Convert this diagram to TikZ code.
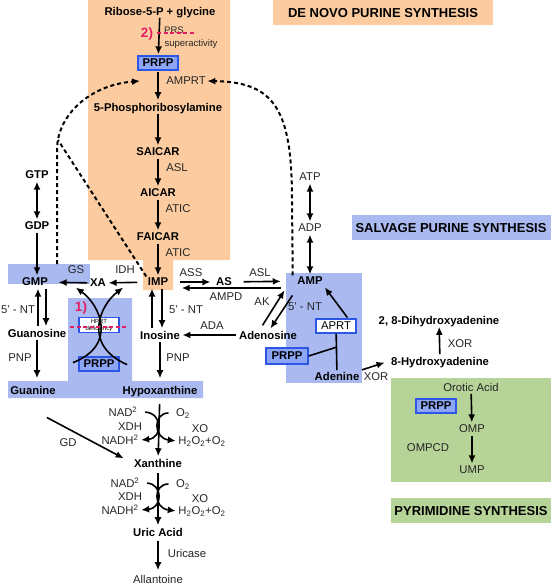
\documentclass[tikz,border=0pt]{standalone}
\usepackage{fontspec}
\setmainfont{Liberation Sans}
\usepackage{tikz}
\usetikzlibrary{arrows.meta}
\definecolor{denovo}{RGB}{252,204,160}
\definecolor{salvage}{RGB}{170,185,240}
\definecolor{pyrim}{RGB}{182,212,152}
\definecolor{prppfill}{RGB}{140,165,245}
\definecolor{boxedge}{RGB}{45,85,230}
\definecolor{defect}{RGB}{228,30,100}
\newcommand{\mainsize}{\fontsize{11.3}{13}\selectfont}
\newcommand{\headhere}{Latex[length=8pt, width=7pt]}
\tikzstyle{metab}=[font=\mainsize\bfseries, inner sep=1.5pt]
\tikzstyle{enzyme}=[font=\mainsize, text=black!85, inner sep=1.5pt]
\tikzstyle{smalltext}=[font=\fontsize{9.5}{10}\selectfont, text=black!85, inner sep=0]
\tikzstyle{defectnum}=[font=\fontsize{13.5}{15}\selectfont\bfseries, text=defect, inner sep=0]
\tikzstyle{prppbox}=[draw=boxedge, line width=1.3pt, fill=prppfill, font=\mainsize\bfseries, inner sep=0, minimum width=40pt, minimum height=14pt]
\tikzstyle{enzbox}=[prppbox, fill=white, font=\mainsize]
\tikzstyle{hprtbox}=[prppbox, fill=white, font=\fontsize{6}{6.5}\selectfont, align=center, minimum height=15pt]
\tikzstyle{title}=[font=\fontsize{13}{15}\selectfont\bfseries, inner sep=0]
\tikzstyle{flow}=[line width=1.6pt, -{\headhere}, shorten >=1pt, shorten <=1pt]
\tikzstyle{dflow}=[flow, {\headhere}-{\headhere}]
\tikzstyle{stem}=[line width=1.6pt]
\tikzstyle{feedback}=[line width=2pt, dash pattern=on 4pt off 3pt, -{\headhere}]
\tikzstyle{defectline}=[draw=defect, line width=1.6pt, dash pattern=on 4pt off 2.5pt]
\tikzstyle{pathway}=[x=1pt, y=-1pt,
                     % pixel grid of the original figure
                     every node/.append style={text depth=0pt}]

\begin{document}
\begin{tikzpicture}[pathway]
        \useasboundingbox (0, 0) rectangle (551, 584);
        \fill[denovo] (88, 0) -- (230, 0) -- (230, 260) -- (173, 260) -- (173, 290) -- (143, 290) -- (143, 260) -- (88, 260) -- cycle;
        \fill[denovo] (273, 0) rectangle (493, 25);
        \fill[salvage] (352, 215) rectangle (551, 240);
        \fill[salvage] (8, 264) rectangle (90, 284);
        \fill[salvage] (68, 298) -- (132, 298) -- (132, 381) -- (203, 381) -- (203, 398) -- (8, 398) -- (8, 381) -- (68, 381) -- cycle;
        \fill[salvage] (286, 273) rectangle (362, 383);
        \fill[pyrim] (391, 378) rectangle (551, 482);
        \fill[pyrim] (391, 498) rectangle (551, 523);
        \node[title]     (denovotitle)  at (383, 13)  {DE NOVO PURINE SYNTHESIS};
        \node[title]     (salvagetitle) at (451, 228) {SALVAGE PURINE SYNTHESIS};
        \node[title]     (pyrimtitle)   at (471, 511) {PYRIMIDINE SYNTHESIS};
        \node[metab]     (ribose)       at (160, 11)  {Ribose-5-P + glycine};
        \node[prppbox]   (prpp1)        at (158, 63)  {PRPP};
        \node[metab]     (pra)          at (158, 107) {5-Phosphoribosylamine};
        \node[metab]     (saicar)       at (158, 152) {SAICAR};
        \node[metab]     (aicar)        at (158, 193) {AICAR};
        \node[metab]     (faicar)       at (158, 237) {FAICAR};
        \node[metab]     (imp)          at (158, 282) {IMP};
        \node[enzyme]    (amprt)        at (186, 81)  {AMPRT};
        \node[enzyme]    (asl1)         at (177, 168) {ASL};
        \node[enzyme]    (atic1)        at (178, 209) {ATIC};
        \node[enzyme]    (atic2)        at (178, 253) {ATIC};
        \node[defectnum] (two)          at (147, 33)  {2)};
        \node[smalltext] (prs)          at (174, 30)  {PRS};
        \node[smalltext] (superact)     at (191, 43)  {superactivity};
        \node[metab]     (xa)           at (98, 283)  {XA};
        \node[metab]     (gmp)          at (35, 282)  {GMP};
        \node[metab]     (gdp)          at (37, 226)  {GDP};
        \node[metab]     (gtp)          at (37, 175)  {GTP};
        \node[enzyme]    (idh)          at (125, 270) {IDH};
        \node[enzyme]    (gs)           at (76, 270)  {GS};
        \node[metab]     (as)           at (224, 282) {AS};
        \node[metab]     (amp)          at (310, 281) {AMP};
        \node[enzyme]    (adp)          at (310, 228) {ADP};
        \node[enzyme]    (atp)          at (310, 177) {ATP};
        \node[enzyme]    (ass)          at (191, 273) {ASS};
        \node[enzyme]    (asl2)         at (260, 273) {ASL};
        \node[enzyme]    (ampd)         at (226, 297) {AMPD};
        \node[enzyme]    (ak)           at (262, 302) {AK};
        \node[enzyme]    (nt1)          at (305, 307) {5' - NT};
        \node[enzyme]    (nt2)          at (186, 310) {5' - NT};
        \node[enzyme]    (nt3)          at (18, 310)  {5' - NT};
        \node[metab]     (inosine)      at (160, 335) {Inosine};
        \node[metab]     (adenosine)    at (268, 335) {Adenosine};
        \node[metab]     (guanosine)    at (37, 333)  {Guanosine};
        \node[enzyme]    (ada)          at (212, 326) {ADA};
        \node[enzyme]    (pnp1)         at (178, 358) {PNP};
        \node[enzyme]    (pnp2)         at (20, 358)  {PNP};
        \node[metab]     (guanine)      at (33, 390)  {Guanine};
        \node[metab]     (hypox)        at (160, 390) {Hypoxanthine};
        \node[hprtbox]   (hprt)         at (99, 325)  {HPRT\\deficiency};
        \node[prppbox]   (prpp2)        at (99, 364)  {PRPP};
        \node[defectnum] (one)          at (81, 307)  {1)};
        \node[enzbox]    (aprt)         at (336, 326) {APRT};
        \node[prppbox, minimum width=42pt, minimum height=16pt] (prpp3) at (287, 356) {PRPP};
        \node[metab]     (adenine)      at (337, 376) {Adenine};
        \node[enzyme]    (xor1)         at (376, 377) {XOR};
        \node[metab]     (hydroxy)      at (440, 361) {8-Hydroxyadenine};
        \node[enzyme]    (xor2)         at (460, 344) {XOR};
        \node[metab]     (dihydroxy)    at (439, 320) {2, 8-Dihydroxyadenine};
        \node[enzyme]    (orotic)       at (471, 387) {Orotic Acid};
        \node[prppbox]   (prpp4)        at (436, 406) {PRPP};
        \node[enzyme]    (omp)          at (472, 429) {OMP};
        \node[enzyme]    (ompcd)        at (428, 448) {OMPCD};
        \node[enzyme]    (ump)          at (472, 470) {UMP};
        \node[metab]     (xanthine)     at (158, 463) {Xanthine};
        \node[metab]     (uric)         at (158, 532) {Uric Acid};
        \node[enzyme]    (allantoine)   at (158, 579) {Allantoine};
        \node[enzyme]    (uricase)      at (187, 553) {Uricase};
        \node[enzyme]    (gd)           at (68, 443)  {GD};
        \node[enzyme]    (nad1)         at (123, 412) {NAD\textsuperscript{2}};
        \node[enzyme]    (xdh1)         at (130, 427) {XDH};
        \node[enzyme]    (nadh1)        at (120, 440) {NADH\textsuperscript{2}};
        \node[enzyme]    (otwo1)        at (183, 413) {O\textsubscript{2}};
        \node[enzyme]    (xo1)          at (200, 429) {XO};
        \node[enzyme]    (hoo1)         at (202, 441) {H\textsubscript{2}O\textsubscript{2}+O\textsubscript{2}};
        \node[enzyme]    (nad2)         at (125, 483) {NAD\textsuperscript{2}};
        \node[enzyme]    (xdh2)         at (130, 497) {XDH};
        \node[enzyme]    (nadh2)        at (120, 510) {NADH\textsuperscript{2}};
        \node[enzyme]    (otwo2)        at (183, 484) {O\textsubscript{2}};
        \node[enzyme]    (xo2)          at (200, 499) {XO};
        \node[enzyme]    (hoo2)         at (202, 511) {H\textsubscript{2}O\textsubscript{2}+O\textsubscript{2}};
        \coordinate (gmpfb)   at (57, 264);
        \coordinate (merge)   at (58, 140);
        \coordinate (amprtin) at (140, 81);
        \coordinate (hgbl)    at (72, 363);
        \coordinate (hgbr)    at (128, 365);
        \coordinate (hgtl)    at (75, 287);
        \coordinate (hgtr)    at (124, 287);
        \coordinate (aprtjoin) at (337, 347);
        \coordinate (gdstart) at (46, 417);
        \draw[flow] (ribose) -- (prpp1);
        \draw[flow] (prpp1) -- (pra);
        \draw[flow] (pra) -- (saicar);
        \draw[flow] (saicar) -- (aicar);
        \draw[flow] (aicar) -- (faicar);
        \draw[flow] (faicar) -- (imp);
        \draw[defectline] ([xshift=4pt]two.east) -- ++(39, 0);
        \draw[flow, shorten <=9pt] (imp) -- (xa);
        \draw[flow, shorten >=9pt] (xa) -- (gmp);
        \draw[dflow] (gtp) -- (gdp);
        \draw[flow] (gdp.south) -- (gdp.south |- gmp.north);
        \draw[flow] ([xshift=1pt]guanosine.north) -- ([xshift=1pt]guanosine.north |- gmp.south);
        \draw[flow] ([xshift=9pt]guanosine.north |- gmp.south) -- ([xshift=9pt]guanosine.north);
        \draw[flow, shorten >=6pt] (guanosine) -- (guanosine |- guanine.north);
        \draw[flow, shorten <=10pt, shorten >=4pt] (imp) -- (as);
        \draw[flow, shorten <=10pt, shorten >=15pt] (as) -- (amp);
        \draw[flow, shorten <=15pt, shorten >=12pt] ([yshift=-7pt]amp.west) -- ([yshift=-7pt]amp.west -| imp.east);
        \draw[dflow] (atp) -- (adp);
        \draw[dflow] (adp) -- (amp);
        \draw[flow] ([shift={(-6, -3)}]adenosine.north) -- ([shift={(-25, 3)}]amp.south);
        \draw[flow] ([shift={(-17, 8)}]amp.south) -- ([shift={(2, 0)}]adenosine.north);
        \draw[flow] (adenosine) -- (inosine);
        \draw[flow] ([xshift=-8pt]inosine.north) -- ([xshift=-8pt]inosine.north |- imp.south);
        \draw[flow] ([xshift=2pt]inosine.north |- imp.south) -- ([xshift=2pt]inosine.north);
        \draw[flow, shorten >=6pt] (inosine) -- (hypox);
        \draw[flow] (hgbl) .. controls (118, 345) and (100, 305) .. (hgtl);
        \draw[flow] (hgbr) .. controls (82, 345) and (100, 305) .. (hgtr);
        \draw[defectline] (70, 327) -- (128, 327);
        \draw[flow] ([xshift=12pt]aprt.north) -- (amp.south east);
        \draw[stem] (aprt) -- (adenine);
        \draw[stem] (prpp3.east) -- (aprtjoin);
        \draw[flow, shorten >=5pt] (adenine.north east) -- (hydroxy.west);
        \draw[flow] (hydroxy) -- (dihydroxy);
        \draw[flow] (orotic) -- (omp);
        \draw[flow] (omp) -- (ump);
        \draw[flow, shorten <=8pt] (hypox) -- (xanthine);
        \draw[flow] ([xshift=5pt]nad1.east) .. controls (163, 413) and (163, 438) .. (nadh1.east);
        \draw[flow] ([xshift=-5pt]otwo1.west) .. controls (153, 413) and (153, 438) .. (hoo1.west);
        \draw[flow, shorten <=4pt] (xanthine) -- (uric);
        \draw[flow] ([xshift=5pt]nad2.east) .. controls (163, 484) and (163, 508) .. (nadh2.east);
        \draw[flow] ([xshift=-5pt]otwo2.west) .. controls (153, 484) and (153, 508) .. (hoo2.west);
        \draw[flow, shorten <=3pt, shorten >=3pt] (uric) -- (allantoine);
        \draw[flow, shorten >=10pt] (gdstart) -- (xanthine.west);
        \draw[feedback] (gmpfb) -- (57, 150) .. controls (57, 115) and (90, 85) .. (amprtin);
        \draw[dash pattern=on 4pt off 3pt, line width=2pt] (imp.north west) .. controls (100, 205) .. (merge);
        \draw[feedback] ([xshift=-3pt]amp.north west) -- (292, 200) .. controls (292, 110) and (275, 82) .. (amprt.east);
\end{tikzpicture}
\end{document}
